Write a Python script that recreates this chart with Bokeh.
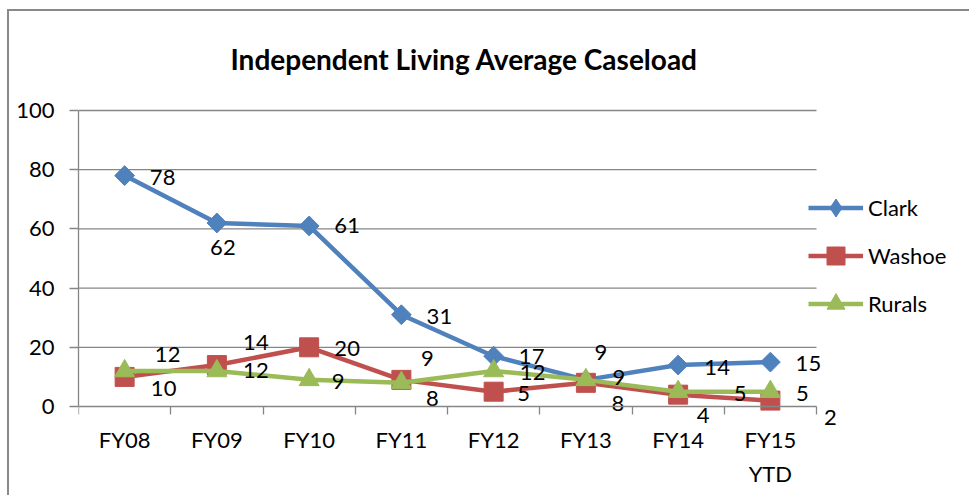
import math
from bokeh.plotting import figure
from bokeh.models import Range1d, FixedTicker, ColumnDataSource, Legend, LegendItem, Label
from bokeh.core.properties import value
from bokeh.embed import file_html
from bokeh.resources import INLINE

# ---- data ----
title_text = "Independent Living Average Caseload"
categories = ["FY08", "FY09", "FY10", "FY11", "FY12", "FY13", "FY14", "FY15\nYTD"]
clark = [78, 62, 61, 31, 17, 9, 14, 15]
washoe = [10, 14, 20, 9, 5, 8, 4, 2]
rurals = [12, 12, 9, 8, 12, 9, 5, 5]
y_ticks = [0, 20, 40, 60, 80, 100]

# ---- label placement (screen px offset of label centre from its point) ----
clark_dx = [38, 6, 38, 38, 38, 15, 39, 38]
clark_dy = [2, 25, 0, 2, 0, -27, 2, 1]
washoe_dx = [39, 39, 38, 26, 30, 32, 25, 60]
washoe_dy = [12, -23, 1, -21, 2, 21, 21, 17]
rurals_dx = [43, 39, 29, 31, 39, 33, 62, 32]
rurals_dy = [-16, 0, 2, 16, 2, -2, 2, 2]

FONT = "Lato"
GRAY = "#868686"
FS = "22px"

n = len(categories)
xs = [i + 0.5 for i in range(n)]

# layout (screen px): canvas origin (9, 11); plot area 78..816 x 110..406
W, H = 962, 486
ORIGIN_X, ORIGIN_Y = 9, 11
PLOT_L, PLOT_R, PLOT_T, PLOT_B = 78, 816, 110, 406
FRAME_R = 962            # frame extends past the plot area so labels/legend are not clipped
FRAME_T = ORIGIN_Y       # frame spans the full canvas height; axes are bounded to 0..100
FRAME_B = ORIGIN_Y + H   # x axis is pinned at y = 0
x_end = n * (FRAME_R - PLOT_L) / (PLOT_R - PLOT_L)
y_top = y_ticks[-1]
px_per_unit = (PLOT_B - PLOT_T) / y_top
y_start = -(FRAME_B - PLOT_B) / px_per_unit
y_end = y_top + (PLOT_T - FRAME_T) / px_per_unit

p = figure(width=W, height=H, x_range=Range1d(0, x_end), y_range=Range1d(y_start, y_end),
           output_backend="svg", toolbar_location=None,
           min_border_left=PLOT_L - ORIGIN_X, min_border_right=W - (FRAME_R - ORIGIN_X),
           min_border_top=FRAME_T - ORIGIN_Y, min_border_bottom=H - (FRAME_B - ORIGIN_Y))
p.styles = {"border-left": "2px solid #898989", "border-top": "2px solid #898989",
            "margin-left": "7px", "margin-top": "9px"}
p.outline_line_color = None

# title (screen position relative to the frame's bottom-left corner)
p.add_layout(Label(x=152, y=FRAME_B - 58, x_units="screen", y_units="screen",
                   text=title_text, text_font=FONT, text_font_size="28px",
                   text_font_style="bold", text_color="black",
                   text_align="left", text_baseline="middle"))

# x axis, pinned at y = 0
p.xaxis.fixed_location = 0
p.xaxis.bounds = (0, n)
p.xaxis.ticker = FixedTicker(ticks=xs, minor_ticks=list(range(n + 1)))
p.xaxis.major_label_overrides = {x: c for x, c in zip(xs, categories)}
p.xaxis.major_tick_out = 0
p.xaxis.major_tick_in = 0
p.xaxis.minor_tick_out = 8
p.xaxis.minor_tick_in = 0
p.xaxis.minor_tick_line_color = GRAY
p.xaxis.minor_tick_line_width = 1.3
p.xaxis.axis_line_color = GRAY
p.xaxis.axis_line_width = 1.3
p.xaxis.major_label_text_font = FONT
p.xaxis.major_label_text_font_size = FS
p.xaxis.major_label_text_color = "black"
p.xaxis.major_label_standoff = 11
p.xaxis.major_label_text_line_height = 1.27
p.xgrid.visible = False

# y axis
p.yaxis.bounds = (0, y_top)
p.yaxis.ticker = FixedTicker(ticks=y_ticks)
p.yaxis.major_tick_out = 9
p.yaxis.major_tick_in = 0
p.yaxis.minor_tick_line_color = None
p.yaxis.major_tick_line_color = GRAY
p.yaxis.major_tick_line_width = 1.3
p.yaxis.axis_line_color = GRAY
p.yaxis.axis_line_width = 1.3
p.yaxis.major_label_text_font = FONT
p.yaxis.major_label_text_font_size = FS
p.yaxis.major_label_text_color = "black"
p.yaxis.major_label_standoff = 15
p.ygrid.visible = False

# horizontal gridlines limited to the category area
grid_y = [t for t in y_ticks if t > 0]
p.segment(x0=[0] * len(grid_y), x1=[n] * len(grid_y), y0=grid_y, y1=grid_y,
          line_color=GRAY, line_width=1.3)

series = [
    ("Clark", clark, clark_dx, clark_dy, "#4F81BD", "square", 14, math.pi / 4, "diamond"),
    ("Washoe", washoe, washoe_dx, washoe_dy, "#C0504D", "square", 19, 0, "square"),
    ("Rurals", rurals, rurals_dx, rurals_dy, "#9BBB59", "triangle", 20, 0, "triangle"),
]

items = []
label_sources = []
for name, vals, dx, dy, color, marker, size, angle, leg_marker in series:
    src = ColumnDataSource(dict(x=xs, y=vals, lbl=[str(v) for v in vals], dx=dx, dy=dy))
    r_line = p.line("x", "y", source=src, line_color=color, line_width=4.5)
    p.scatter("x", "y", source=src, marker=marker, size=size, angle=angle,
              fill_color=color, line_color=color)
    leg_src = ColumnDataSource(dict(x=[float("nan")], y=[float("nan")]))
    r_leg = p.scatter("x", "y", source=leg_src, marker=leg_marker, size=0,
                      fill_color=color, line_color=color)
    items.append(LegendItem(label=name, renderers=[r_line, r_leg]))
    label_sources.append(src)

for src in label_sources:
    p.text("x", "y", text="lbl", x_offset="dx", y_offset="dy", source=src,
           text_font=value(FONT), text_font_size=FS, text_align="center",
           text_baseline="middle", text_color="black")

# legend position relative to the frame's bottom-left corner
legend = Legend(items=items, location=(730, FRAME_B - 326))
legend.glyph_width = 55
legend.glyph_height = 45
legend.spacing = 3
legend.padding = 0
legend.margin = 0
legend.label_standoff = 5
legend.border_line_color = None
legend.background_fill_alpha = 0
legend.label_text_font = FONT
legend.label_text_font_size = FS
legend.label_text_color = "black"
p.add_layout(legend)

open("out.html", "w").write(file_html(p, INLINE))
